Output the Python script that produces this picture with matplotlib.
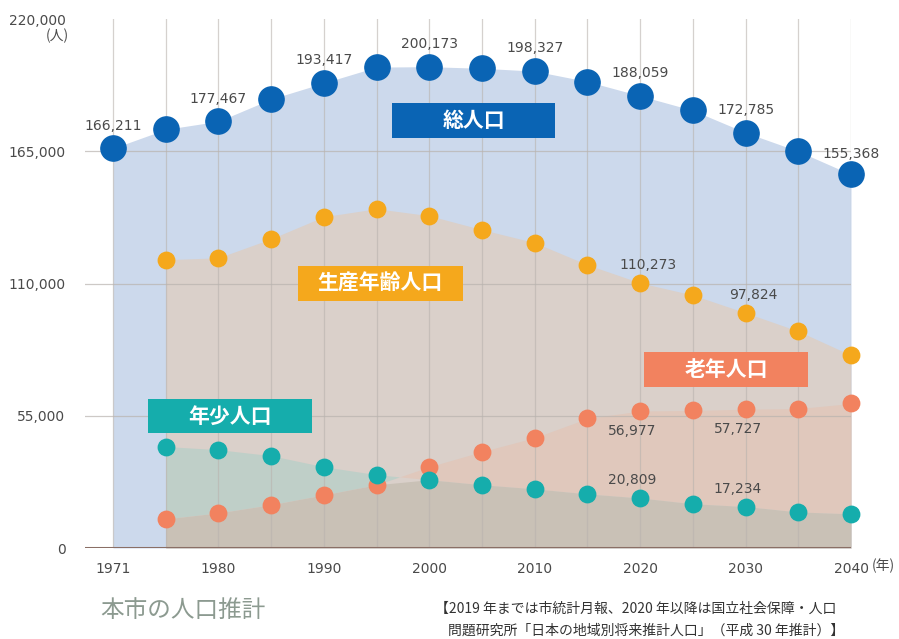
import numpy as np
import matplotlib.pyplot as plt

plt.rcParams['font.family'] = ['Noto Sans CJK JP', 'DejaVu Sans']

# data (people)
years = ["1971", "1975", "1980", "1985", "1990", "1995", "2000", "2005",
         "2010", "2015", "2020", "2025", "2030", "2035", "2040"]
total = [166211, 174100, 177467, 186700, 193417, 200000, 200173, 199500,
         198327, 194000, 188059, 182000, 172785, 165000, 155368]
# the age groups start from 1975
working = [119900, 120700, 128600, 137800, 141100, 138200, 132400, 127000,
           117800, 110273, 105200, 97824, 90200, 80200]
elderly = [12100, 14600, 18000, 22100, 26300, 33800, 40100, 45900,
           53900, 56977, 57200, 57727, 58000, 60100]
youth = [42200, 40900, 38400, 33800, 30500, 28400, 26300, 24600,
         22500, 20809, 18400, 17234, 15000, 14200]

yticks = [0, 55000, 110000, 165000, 220000]
xtick_years = ["1971", "1980", "1990", "2000", "2010", "2020", "2030", "2040"]

# years that get a value label
total_labels = ["1971", "1980", "1990", "2000", "2010", "2020", "2030", "2040"]
working_labels = ["2020", "2030"]
elderly_labels = ["2020", "2030"]
youth_labels = ["2020", "2030"]

BLUE = "#0a64b4"
ORANGE = "#f5a81c"
SALMON = "#f2825f"
TEAL = "#15adac"

x = np.arange(len(years))
xa = x[1:]  # age group positions

fig = plt.figure(figsize=(8.99, 6.39), dpi=100)
ax = fig.add_axes([85 / 899, 1 - 548 / 639, 766 / 899, 529 / 639])
ax.set_xlim(-28 / 52.71, 14)
ax.set_ylim(0, 220000)

# area fills
ax.fill_between(x, 0, total, color="#ccd9ec", lw=0, zorder=1)
ax.fill_between(xa, 0, working, color="#dad0ca", lw=0, zorder=2)
e = np.array(elderly)
yo = np.array(youth)
ax.fill_between(xa, e, yo, where=yo >= e, interpolate=True, color="#bfcfc8", lw=0, zorder=3)
ax.fill_between(xa, yo, e, where=e >= yo, interpolate=True, color="#e0c8bc", lw=0, zorder=3)
ax.fill_between(xa, 0, np.minimum(e, yo), color="#c9c1b6", lw=0, zorder=3)

# grid
for xi in x:
    ax.axvline(xi, color="#b9b3ae", lw=0.9, alpha=0.6, zorder=4)
for yv in yticks[1:-1]:
    ax.axhline(yv, color="#b9b3ae", lw=0.9, alpha=0.7, zorder=4)
ax.axhline(0, color="#8a6f66", lw=2.2, zorder=5)

# points
ax.scatter(x, total, s=330, color=BLUE, zorder=6, clip_on=False)
ax.scatter(xa, working, s=140, color=ORANGE, zorder=6, clip_on=False)
ax.scatter(xa, elderly, s=140, color=SALMON, zorder=6, clip_on=False)
ax.scatter(xa, youth, s=140, color=TEAL, zorder=6, clip_on=False)

# value labels
lab_kw = dict(fontsize=10, color="#4a4a4a", family=["DejaVu Sans"], zorder=7)
for yr in total_labels:
    i = years.index(yr)
    off = 5500 if yr == "2040" else 6500
    ax.text(i, total[i] + off, f"{total[i]:,}", ha="center", va="bottom", **lab_kw)
for yr in working_labels:
    i = years.index(yr)
    ax.text(i + 0.15, working[i - 1] + 4500, f"{working[i - 1]:,}", ha="center", va="bottom", **lab_kw)
for yr in elderly_labels:
    i = years.index(yr)
    ax.text(i - 0.15, elderly[i - 1] - 5500, f"{elderly[i - 1]:,}", ha="center", va="top", **lab_kw)
for yr in youth_labels:
    i = years.index(yr)
    ax.text(i - 0.15, youth[i - 1] + 4500, f"{youth[i - 1]:,}", ha="center", va="bottom", **lab_kw)


def box(x0, y0, x1, y1, text, color):
    # series name box, pixel coordinates in the figure
    r = plt.Rectangle((x0 / 899, 1 - y1 / 639), (x1 - x0) / 899, (y1 - y0) / 639,
                      transform=fig.transFigure, fc=color, ec="none", zorder=8)
    fig.add_artist(r)
    fig.text((x0 + x1) / 2 / 899, 1 - (y0 + y1) / 2 / 639, text, ha="center", va="center",
             color="white", fontsize=15, fontweight="bold", zorder=9)


box(392, 103, 555, 138, "総人口", BLUE)
box(298, 266, 463, 301, "生産年齢人口", ORANGE)
box(148, 399, 312, 433, "年少人口", TEAL)
box(644, 352, 808, 387, "老年人口", SALMON)

# axes styling
for s in ax.spines.values():
    s.set_visible(False)
ax.set_yticks(yticks)
ax.set_yticklabels([f"{v:,}" for v in yticks], family=["DejaVu Sans"])
ax.set_xticks([years.index(y) for y in xtick_years])
ax.set_xticklabels(xtick_years, family=["DejaVu Sans"])
ax.tick_params(axis="both", length=0, labelsize=10, colors="#4a4a4a")
ax.tick_params(axis="y", pad=14)
ax.tick_params(axis="x", pad=10)
fig.text(883 / 899, 1 - 566 / 639, "(年)", ha="center", va="center", fontsize=10, color="#4a4a4a")
fig.text(57 / 899, 1 - 36 / 639, "(人)", ha="center", va="center", fontsize=10, color="#4a4a4a")

# title and source
fig.text(100 / 899, 1 - 610 / 639, "本市の人口推計", ha="left", va="center",
         fontsize=17, color="#8c9a90")
fig.text(636 / 899, 1 - 609 / 639,
         "【2019 年までは市統計月報、2020 年以降は国立社会保障・人口", ha="center",
         va="center", fontsize=10, color="#333333")
fig.text(646 / 899, 1 - 631 / 639,
         "問題研究所「日本の地域別将来推計人口」（平成 30 年推計）】", ha="center",
         va="center", fontsize=10, color="#333333")

fig.savefig("out.png", dpi=100)
